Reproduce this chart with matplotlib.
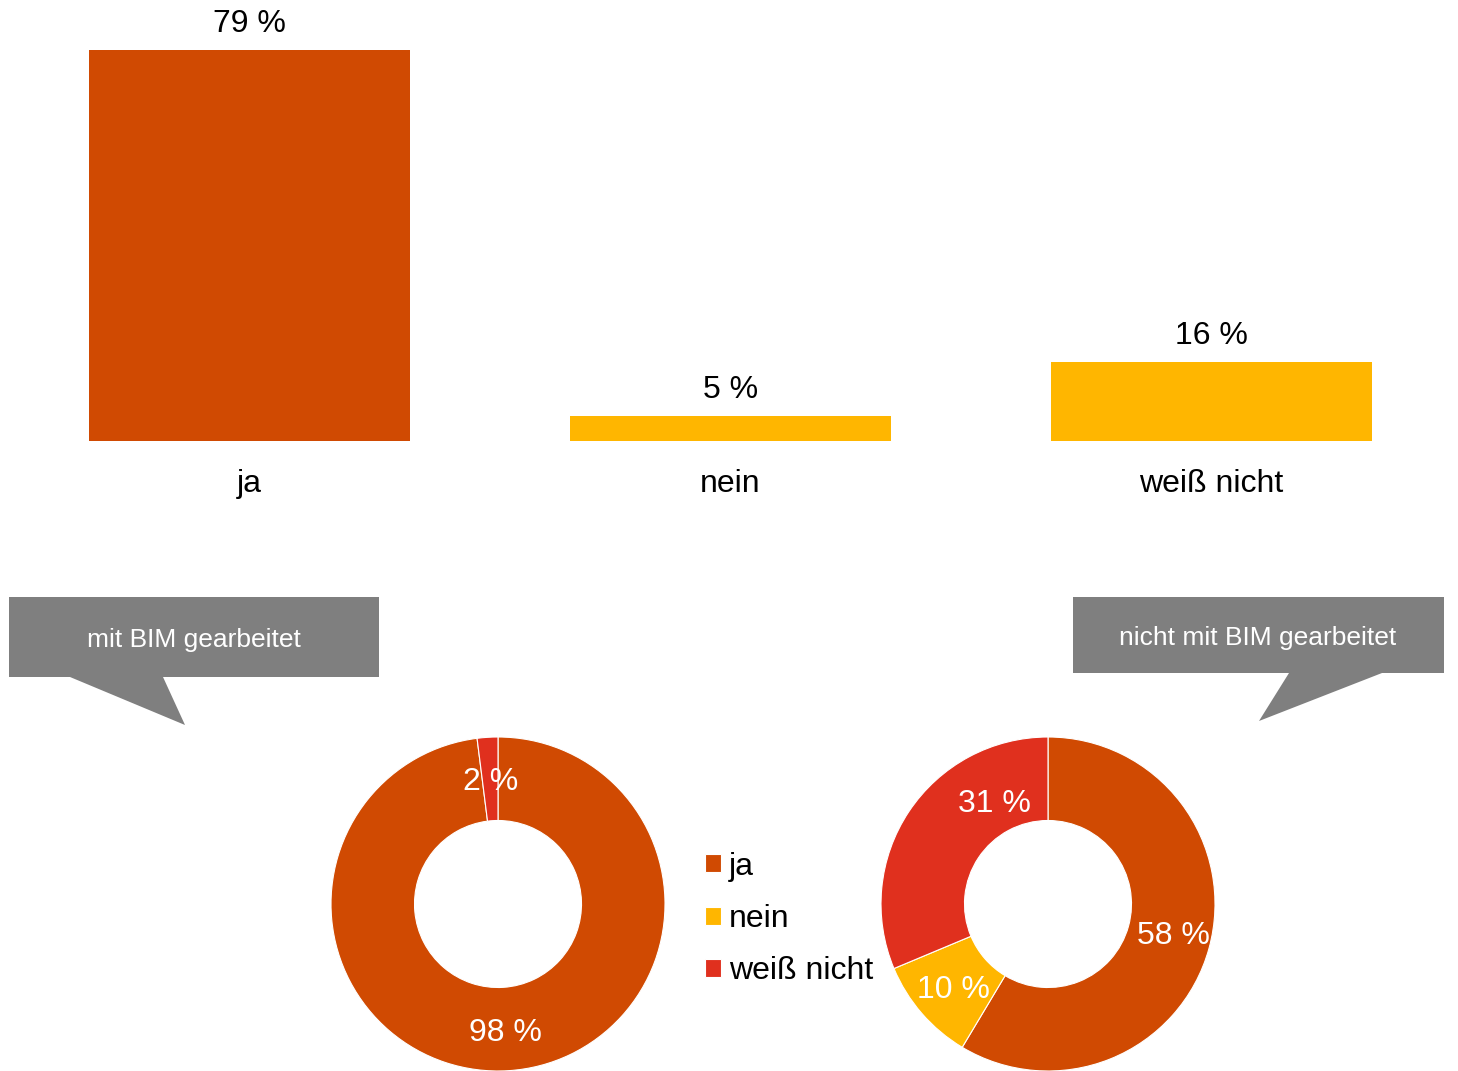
import matplotlib
matplotlib.use("Agg")
import matplotlib.pyplot as plt
from matplotlib.patches import Polygon

plt.rcParams['font.family'] = ['Liberation Sans', 'DejaVu Sans']

# Survey answers
categories = ["ja", "nein", "weiß nicht"]
overall = [79, 5, 16]
with_bim = [98, 0, 2]
without_bim = [58, 10, 31]
group_titles = ["mit BIM gearbeitet", "nicht mit BIM gearbeitet"]

colors = {"ja": "#D04A02", "nein": "#FFB600", "weiß nicht": "#E0301E"}
bar_colors = ["#D04A02", "#FFB600", "#FFB600"]
callout_gray = "#7F7F7F"
FS = 23

W, H = 1458, 1071
fig = plt.figure(figsize=(W / 100, H / 100), dpi=100)
fig.patch.set_facecolor("white")


def frac_box(x0, y0, x1, y1):
    """Pixel box (top-left origin) -> figure fraction rect."""
    return [x0 / W, 1 - y1 / H, (x1 - x0) / W, (y1 - y0) / H]


# Background layer for the speech-bubble callouts
bg = fig.add_axes([0, 0, 1, 1], zorder=0)
bg.set_xlim(0, W)
bg.set_ylim(H, 0)
bg.axis("off")
left_bubble = [(9, 597), (379, 597), (379, 677), (163, 677), (185, 725), (70, 677), (9, 677)]
right_bubble = [(1073, 597), (1444, 597), (1444, 673), (1382, 673), (1259, 721), (1289, 673), (1073, 673)]
for pts in (left_bubble, right_bubble):
    bg.add_patch(Polygon(pts, closed=True, facecolor=callout_gray, edgecolor="none"))
bg.text(194, 647, group_titles[0], color="white", fontsize=19, ha="center", va="baseline")
bg.text(1258, 645, group_titles[1], color="white", fontsize=19, ha="center", va="baseline")

# Bar chart of all answers
ax = fig.add_axes(frac_box(9, 45, 1452, 441), zorder=1)
ax.patch.set_alpha(0)
xs = range(len(categories))
bars = ax.bar(xs, overall, width=0.667, color=bar_colors)
ax.set_xlim(-0.5, len(categories) - 0.5)
ax.set_ylim(0, 80)
for b, v in zip(bars, overall):
    ax.annotate(f"{v} %", (b.get_x() + b.get_width() / 2, v), xytext=(0, 13),
                textcoords="offset points", ha="center", va="baseline", fontsize=FS)
ax.set_xticks(list(xs))
ax.set_xticklabels(categories, fontsize=FS)
ax.tick_params(axis="x", length=0, pad=20)
ax.set_yticks([])
for s in ax.spines.values():
    s.set_visible(False)


def donut(box, values, label_moves=None):
    a = fig.add_axes(frac_box(*box), zorder=1)
    keep = [(c, v) for c, v in zip(categories, values) if v > 0]
    labels = [c for c, _ in keep]
    vals = [v for _, v in keep]
    wedges, _, autotexts = a.pie(
        vals, colors=[colors[c] for c in labels], startangle=90, counterclock=False,
        radius=1.0, pctdistance=0.75,
        autopct=lambda p, vals=vals: f"{round(p * sum(vals) / 100):.0f} %",
        wedgeprops=dict(width=0.5, edgecolor="white", linewidth=0.8),
        textprops=dict(color="white", fontsize=FS))
    for t in autotexts:
        t.set_va("center_baseline")
    if label_moves:
        for lab, pos in label_moves.items():
            autotexts[labels.index(lab)].set_position(pos)
    a.set_xlim(-1, 1)
    a.set_ylim(-1, 1)
    a.set_aspect("equal")
    a.axis("off")
    return wedges, labels


donut((331, 737, 665, 1071), with_bim)
wedges, labels = donut((881, 737, 1215, 1071), without_bim,
                       label_moves={"weiß nicht": (-0.32, 0.62), "ja": (0.75, -0.17)})

fig.legend(wedges, labels, loc="center left",
           bbox_to_anchor=(705 / W, 1 - 919 / H), frameon=False,
           fontsize=FS, handlelength=0.5, handleheight=0.5,
           handletextpad=0.24, labelspacing=0.7, borderpad=0, borderaxespad=0)

fig.savefig("out.png", dpi=100, facecolor="white")
